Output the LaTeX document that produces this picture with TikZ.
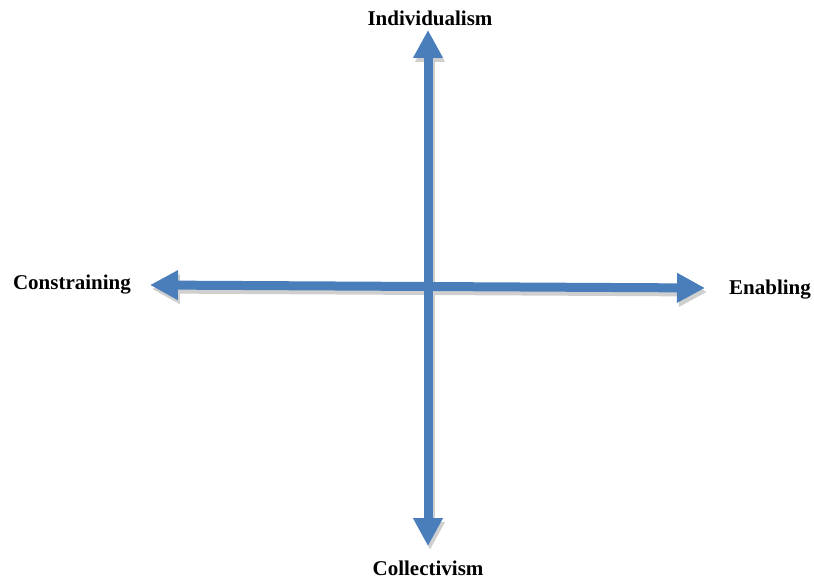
\documentclass[tikz,border=0pt]{standalone}
\usepackage{fontspec}
\setmainfont{Liberation Serif}
\usetikzlibrary{arrows.meta}
\definecolor{axisblue}{HTML}{4A7EBB}
\definecolor{shadowgray}{HTML}{CFCFCF}
\tikzset{
  axhead/.tip={Triangle[width=28pt,length=28pt]},
  axis/.style={line width=9pt, draw=axisblue, axhead-axhead},
  axisshadow/.style={line width=9pt, draw=shadowgray, axhead-axhead},
  lbl/.style={font=\fontsize{21}{24}\selectfont\bfseries, inner sep=0pt}
}
\begin{document}
\begin{tikzpicture}[x=1pt,y=-1pt]
\useasboundingbox (0,0) rectangle (814,580);
\coordinate (top) at (428,30);
\coordinate (bot) at (428,546);
\coordinate (lft) at (150,285);
\coordinate (rgt) at (705,288);
\node[lbl] (ind) at (430,18) {Individualism};
\node[lbl] (col) at (428,568) {Collectivism};
\node[lbl] (con) at (72,285) {Constraining};
\node[lbl] (ena) at (770,290) {Enabling};
\begin{scope}[transform canvas={shift={(2pt,-4pt)}}]
\draw[axisshadow] (lft) -- (rgt);
\draw[axisshadow] (top) -- (bot);
\end{scope}
\draw[axis] (lft) -- (rgt);
\draw[axis] (top) -- (bot);
\end{tikzpicture}
\end{document}
